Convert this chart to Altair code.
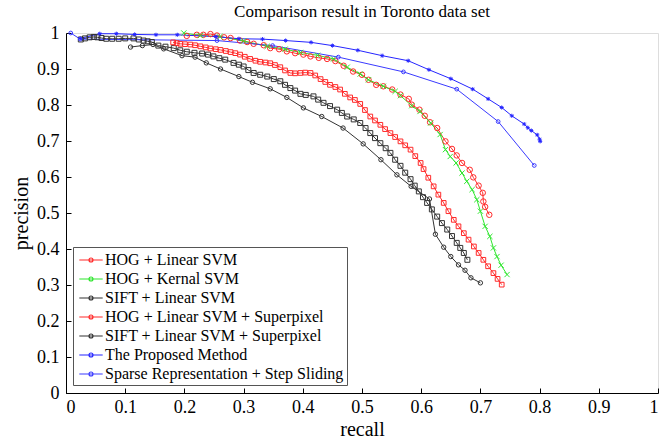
import altair as alt
import pandas as pd

# ---------------- data ----------------
names = [
    "HOG + Linear SVM",
    "HOG + Kernal SVM",
    "SIFT + Linear SVM",
    "HOG + Linear SVM + Superpixel",
    "SIFT + Linear SVM + Superpixel",
    "The Proposed Method",
    "Sparse Representation + Step Sliding",
]
colors = ["#ff2a2a", "#2ee62e", "#333333", "#ff2a2a", "#333333", "#2525ff", "#3a3aff"]

hog_lin_r = [0.204, 0.221, 0.232, 0.244, 0.255, 0.267, 0.278, 0.294, 0.306, 0.317, 0.334, 0.345, 0.360,
             0.373, 0.387, 0.401, 0.413, 0.427, 0.441, 0.455, 0.469, 0.485, 0.500, 0.511, 0.524, 0.536,
             0.551, 0.565, 0.579, 0.584, 0.597, 0.606, 0.615, 0.627, 0.641, 0.652, 0.660, 0.669, 0.682,
             0.688, 0.697, 0.704, 0.705, 0.708, 0.715]
hog_lin_p = [0.992, 0.995, 0.995, 0.997, 0.993, 0.988, 0.986, 0.979, 0.975, 0.970, 0.966, 0.958, 0.955,
             0.949, 0.944, 0.940, 0.935, 0.931, 0.928, 0.922, 0.909, 0.893, 0.884, 0.870, 0.856, 0.852,
             0.843, 0.829, 0.817, 0.801, 0.787, 0.770, 0.752, 0.736, 0.699, 0.678, 0.660, 0.639, 0.620,
             0.599, 0.576, 0.556, 0.532, 0.517, 0.495]

hog_ker_r = [0.199, 0.227, 0.260, 0.300, 0.340, 0.370, 0.396, 0.425, 0.452, 0.475, 0.497, 0.511, 0.536,
             0.556, 0.565, 0.584, 0.598, 0.616, 0.632, 0.641, 0.649, 0.659, 0.669, 0.677, 0.686, 0.694,
             0.700, 0.708, 0.716, 0.722, 0.728, 0.735, 0.745]
hog_ker_p = [1.000, 0.993, 0.990, 0.978, 0.963, 0.955, 0.946, 0.938, 0.928, 0.905, 0.886, 0.870, 0.852,
             0.838, 0.826, 0.798, 0.782, 0.750, 0.718, 0.676, 0.657, 0.639, 0.611, 0.588, 0.565, 0.537,
             0.505, 0.463, 0.435, 0.403, 0.379, 0.355, 0.329]

sift_lin_r = [0.025, 0.032, 0.040, 0.047, 0.053, 0.060, 0.068, 0.078, 0.089, 0.100, 0.114, 0.123, 0.131,
              0.138, 0.145, 0.156, 0.168, 0.182, 0.193, 0.204, 0.217, 0.230, 0.240, 0.249, 0.259, 0.269,
              0.283, 0.292, 0.300, 0.308, 0.317, 0.328, 0.340, 0.351, 0.362, 0.370, 0.379, 0.387, 0.396,
              0.405, 0.418, 0.426, 0.435, 0.446, 0.458, 0.466, 0.475, 0.486, 0.497, 0.506, 0.514, 0.522,
              0.531, 0.540, 0.548, 0.556, 0.565, 0.573, 0.582, 0.589, 0.596, 0.603, 0.610, 0.618, 0.627,
              0.635, 0.644, 0.652, 0.660, 0.666, 0.672, 0.678]
sift_lin_p = [0.982, 0.985, 0.988, 0.989, 0.988, 0.986, 0.984, 0.984, 0.984, 0.985, 0.985, 0.982, 0.979,
              0.977, 0.975, 0.965, 0.962, 0.958, 0.952, 0.948, 0.945, 0.943, 0.940, 0.935, 0.930, 0.926,
              0.917, 0.912, 0.907, 0.897, 0.889, 0.884, 0.879, 0.872, 0.866, 0.856, 0.847, 0.840, 0.831,
              0.828, 0.824, 0.815, 0.806, 0.797, 0.787, 0.778, 0.768, 0.760, 0.750, 0.736, 0.722, 0.708,
              0.694, 0.680, 0.667, 0.648, 0.631, 0.612, 0.594, 0.576, 0.560, 0.544, 0.528, 0.510, 0.490,
              0.472, 0.454, 0.436, 0.417, 0.403, 0.389, 0.370]

hog_sp_r = [0.181, 0.187, 0.193, 0.201, 0.210, 0.218, 0.227, 0.236, 0.244, 0.253, 0.261, 0.270, 0.278,
            0.286, 0.294, 0.302, 0.311, 0.320, 0.328, 0.337, 0.345, 0.353, 0.362, 0.370, 0.379, 0.387,
            0.396, 0.404, 0.413, 0.421, 0.430, 0.438, 0.446, 0.455, 0.463, 0.471, 0.480, 0.488, 0.497,
            0.505, 0.514, 0.522, 0.531, 0.539, 0.548, 0.556, 0.565, 0.573, 0.582, 0.590, 0.599, 0.604,
            0.612, 0.621, 0.629, 0.638, 0.646, 0.655, 0.663, 0.672, 0.680, 0.689, 0.697, 0.705, 0.713,
            0.722, 0.729, 0.736]
hog_sp_p = [0.974, 0.972, 0.970, 0.969, 0.968, 0.966, 0.963, 0.960, 0.957, 0.955, 0.953, 0.950, 0.947,
            0.944, 0.940, 0.934, 0.928, 0.923, 0.920, 0.918, 0.916, 0.911, 0.905, 0.896, 0.889, 0.888,
            0.889, 0.890, 0.889, 0.882, 0.872, 0.864, 0.856, 0.850, 0.843, 0.831, 0.821, 0.814, 0.803,
            0.786, 0.768, 0.757, 0.745, 0.733, 0.722, 0.711, 0.699, 0.688, 0.676, 0.658, 0.639, 0.622,
            0.598, 0.574, 0.551, 0.528, 0.505, 0.481, 0.463, 0.444, 0.426, 0.407, 0.389, 0.370, 0.352,
            0.333, 0.317, 0.301]

sift_sp_r = [0.109, 0.129, 0.147, 0.165, 0.196, 0.218, 0.237, 0.261, 0.292, 0.315, 0.345, 0.373, 0.401,
             0.432, 0.468, 0.502, 0.532, 0.559, 0.583, 0.614, 0.624, 0.638, 0.650, 0.663, 0.674, 0.684,
             0.700]
sift_sp_p = [0.961, 0.965, 0.968, 0.956, 0.937, 0.933, 0.917, 0.900, 0.879, 0.863, 0.845, 0.821, 0.792,
             0.768, 0.736, 0.692, 0.648, 0.606, 0.574, 0.539, 0.441, 0.405, 0.379, 0.356, 0.341, 0.320,
             0.306]

prop_r = [0.024, 0.057, 0.085, 0.116, 0.152, 0.188, 0.253, 0.292, 0.332, 0.371, 0.414, 0.450, 0.493,
          0.534, 0.578, 0.613, 0.650, 0.687, 0.713, 0.736, 0.753, 0.774, 0.780, 0.786, 0.796, 0.800, 0.801]
prop_p = [0.985, 0.998, 0.998, 0.996, 0.995, 0.995, 0.990, 0.984, 0.983, 0.979, 0.974, 0.965, 0.952,
          0.937, 0.923, 0.898, 0.873, 0.844, 0.817, 0.793, 0.770, 0.747, 0.737, 0.729, 0.717, 0.705, 0.699]

sparse_r = [0.008, 0.024, 0.255, 0.349, 0.460, 0.570, 0.660, 0.730, 0.791]
sparse_p = [1.000, 0.983, 0.979, 0.965, 0.933, 0.892, 0.844, 0.754, 0.632]

x_ticks = [0, 0.1, 0.2, 0.3, 0.4, 0.5, 0.6, 0.7, 0.8, 0.9, 1]
y_ticks = [0, 0.1, 0.2, 0.3, 0.4, 0.5, 0.6, 0.7, 0.8, 0.9, 1]

recalls = [hog_lin_r, hog_ker_r, sift_lin_r, hog_sp_r, sift_sp_r, prop_r, sparse_r]
precisions = [hog_lin_p, hog_ker_p, sift_lin_p, hog_sp_p, sift_sp_p, prop_p, sparse_p]

# marker styles
circle = "circle"
square = "square"
xmark = "M-1,-1L1,1M-1,1L1,-1"
aster = "M-1,0L1,0M0,-1L0,1M-0.7,-0.7L0.7,0.7M-0.7,0.7L0.7,-0.7"
shapes = [circle, xmark, square, square, circle, aster, circle]
sizes = [30, 14, 36, 36, 28, 22, 55]

rows = []
for name, rs, ps in zip(names, recalls, precisions):
    for i, (r, p) in enumerate(zip(rs, ps)):
        rows.append({"series": name, "marker": name, "recall": r, "precision": p, "idx": i})
df = pd.DataFrame(rows)

FONT = "Liberation Serif"


def axis(title, ticks, pad, tpad):
    return alt.Axis(values=ticks, format=".1~f", title=title, labelPadding=pad, titlePadding=tpad,
                    grid=False, domainColor="black", tickColor="black", tickSize={"expr": "-5"},
                    labelFont=FONT, labelFontSize=18, labelColor="black",
                    titleFont=FONT, titleFontSize=20, titleFontWeight="normal", titleColor="black",
                    domainWidth=1, tickWidth=1)


x_enc = alt.X("recall:Q", scale=alt.Scale(domain=[0, 1], nice=False, zero=False),
              axis=axis("recall", x_ticks, 10, 3))
y_enc = alt.Y("precision:Q", scale=alt.Scale(domain=[0, 1], nice=False, zero=False),
              axis=axis("precision", y_ticks, 12, 5))

color_scale = alt.Scale(domain=names, range=colors)

legend = alt.Legend(
    title=None, orient="none", legendX=7, legendY=214,
    strokeColor="#555555", fillColor="white", padding=3,
    labelFont=FONT, labelFontSize=16, labelColor="black", labelLimit=400,
    symbolType="M-1.3,0L1.3,0M-0.22,0A0.22,0.22,0,1,1,0.22,0A0.22,0.22,0,1,1,-0.22,0",
    symbolSize=324, symbolStrokeWidth=1.2, symbolOffset=5, labelOffset=4, rowPadding=1.0,
)

base = alt.Chart(df)

lines = base.mark_line(strokeWidth=1).encode(
    x=x_enc, y=y_enc,
    color=alt.Color("series:N", scale=color_scale, legend=legend, sort=names),
    order="idx:Q",
)

points = base.mark_point(filled=False, strokeWidth=1, opacity=1).encode(
    x=x_enc, y=y_enc,
    stroke=alt.Stroke("marker:N", scale=alt.Scale(domain=names, range=colors), legend=None),
    shape=alt.Shape("marker:N", scale=alt.Scale(domain=names, range=shapes), legend=None),
    size=alt.Size("marker:N", scale=alt.Scale(domain=names, range=sizes), legend=None),
)

chart = alt.layer(lines, points).resolve_scale(shape="independent", size="independent").properties(
    width=592, height=360,
    title=alt.TitleParams("Comparison result in Toronto data set", font=FONT, fontSize=17,
                          fontWeight="normal", anchor="middle", offset=3, color="black"),
    autosize=alt.AutoSizeParams(type="none"),
    padding={"left": 66, "top": 33, "right": 5, "bottom": 47},
).configure_view(stroke=None).configure(background="white")

chart.save("out.html", embed_options={"renderer": "svg", "actions": False})
